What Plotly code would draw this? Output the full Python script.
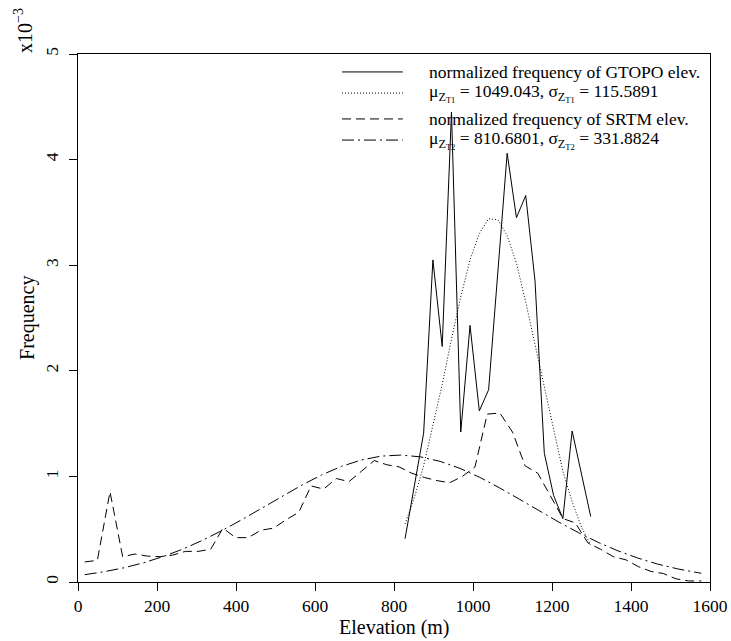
import plotly.graph_objects as go

# ---- data (frequency in units of 1e-3) ----
gtopo_x = [828, 851.5, 875, 898.5, 922, 945.5, 969, 992.5, 1016, 1039.5, 1063,
           1086.5, 1110, 1133.5, 1157, 1180.5, 1204, 1227.5, 1251, 1274.5, 1298]
gtopo_y = [0.41, 0.9, 1.41, 3.05, 2.23, 4.45, 1.42, 2.43, 1.62, 1.82, 2.95,
           4.06, 3.45, 3.66, 2.85, 1.22, 0.82, 0.60, 1.43, 1.02, 0.62]
gtopo_fit_y = [0.55, 0.80, 1.10, 1.47, 1.87, 2.30, 2.70, 3.05, 3.30, 3.44, 3.43,
               3.28, 3.02, 2.65, 2.25, 1.82, 1.42, 1.05, 0.76, 0.52, 0.35]

srtm_x = [17, 49, 81, 113, 144, 176, 208, 240, 272, 304, 336, 367, 399, 431, 463,
          495, 527, 559, 590, 622, 654, 686, 718, 750, 782, 813, 845, 877, 909,
          941, 973, 1005, 1036, 1068, 1100, 1132, 1164, 1196, 1228, 1259, 1291,
          1323, 1355, 1387, 1419, 1451, 1482, 1514, 1546, 1578]
srtm_y = [0.19, 0.205, 0.855, 0.24, 0.265, 0.245, 0.24, 0.255, 0.29, 0.29, 0.31,
          0.51, 0.42, 0.42, 0.49, 0.51, 0.59, 0.66, 0.91, 0.88, 0.98, 0.95, 1.05,
          1.15, 1.11, 1.09, 1.03, 0.99, 0.96, 0.94, 1.0, 1.09, 1.59, 1.60, 1.42,
          1.10, 1.03, 0.82, 0.60, 0.56, 0.37, 0.31, 0.24, 0.21, 0.145, 0.10, 0.08,
          0.03, 0.01, 0.01]

srtm_fit_x = [17, 67, 117, 167, 217, 267, 317, 367, 417, 467, 517, 567, 617, 667,
              717, 767, 817, 867, 917, 967, 1017, 1067, 1117, 1167, 1217, 1267,
              1317, 1367, 1417, 1467, 1517, 1567, 1578]
srtm_fit_y = [0.069, 0.098, 0.135, 0.183, 0.243, 0.314, 0.398, 0.492, 0.595, 0.703,
              0.813, 0.918, 1.014, 1.095, 1.155, 1.192, 1.202, 1.185, 1.142, 1.076,
              0.991, 0.892, 0.785, 0.675, 0.568, 0.467, 0.375, 0.295, 0.227, 0.170,
              0.125, 0.090, 0.083]

x_ticks = [0, 200, 400, 600, 800, 1000, 1200, 1400, 1600]
y_ticks = [0, 1, 2, 3, 4, 5]

legend_labels = [
    "normalized frequency of GTOPO elev.",
    "μ<sub>Z<sub>T1</sub></sub> = 1049.043, σ<sub>Z<sub>T1</sub></sub> = 115.5891",
    "normalized frequency of SRTM elev.",
    "μ<sub>Z<sub>T2</sub></sub> = 810.6801, σ<sub>Z<sub>T2</sub></sub> = 331.8824",
]

FONT = "Liberation Serif"
DOT = "1px,2px"
DASH = "9px,5px"
DASHDOT = "12px,4px,2px,4px"
styles = ["solid", DOT, DASH, DASHDOT]
LEG_SIZE = 17.5
TICK_SIZE = 17.5
TITLE_SIZE = 20

fig = go.Figure()
fig.add_trace(go.Scatter(x=gtopo_x, y=gtopo_y, mode="lines",
                         line=dict(color="black", width=1, dash="solid")))
fig.add_trace(go.Scatter(x=gtopo_x, y=gtopo_fit_y, mode="lines",
                         line=dict(color="black", width=1, dash=DOT)))
fig.add_trace(go.Scatter(x=srtm_x, y=srtm_y, mode="lines",
                         line=dict(color="black", width=1, dash=DASH)))
fig.add_trace(go.Scatter(x=srtm_fit_x, y=srtm_fit_y, mode="lines",
                         line=dict(color="black", width=1, dash=DASHDOT)))

# manual legend (R style, no box)
leg_y = [0.966, 0.926, 0.877, 0.837]
shapes = []
annotations = []
for lab, st, yy in zip(legend_labels, styles, leg_y):
    shapes.append(dict(type="line", xref="paper", yref="paper",
                       x0=0.4177, x1=0.514, y0=yy, y1=yy,
                       line=dict(color="black", width=1, dash=st)))
    annotations.append(dict(text=lab, xref="paper", yref="paper", x=0.552, y=yy,
                            xanchor="left", yanchor="middle", showarrow=False,
                            font=dict(family=FONT, size=LEG_SIZE, color="black")))

annotations += [
    dict(text="Elevation (m)", xref="paper", yref="paper", x=0.5, y=-0.087,
         xanchor="center", yanchor="middle", showarrow=False,
         font=dict(family=FONT, size=TITLE_SIZE, color="black")),
    dict(text="Frequency", xref="paper", yref="paper", x=-0.0807, y=0.5,
         xanchor="center", yanchor="middle", showarrow=False, textangle=-90,
         font=dict(family=FONT, size=TITLE_SIZE, color="black")),
    dict(text="x10<sup>−3</sup>", xref="paper", yref="paper", x=-0.086, y=1.045,
         xanchor="center", yanchor="middle", showarrow=False, textangle=-90,
         font=dict(family=FONT, size=TITLE_SIZE, color="black")),
]

fig.update_layout(
    template="none",
    width=731, height=641, autosize=False,
    margin=dict(l=78, r=21, t=54, b=59, pad=0),
    paper_bgcolor="white", plot_bgcolor="white",
    showlegend=False,
    font=dict(family=FONT, size=TICK_SIZE, color="black"),
    shapes=shapes, annotations=annotations,
)
fig.update_xaxes(range=[0, 1600], tickvals=x_ticks, ticks="outside", ticklen=8,
                 tickcolor="black", showgrid=False, zeroline=False, automargin=False,
                 showline=True, linecolor="black", linewidth=1, mirror=True,
                 tickfont=dict(family=FONT, size=TICK_SIZE))
fig.update_yaxes(range=[0, 5], tickvals=y_ticks, ticks="outside", ticklen=8,
                 tickcolor="black", showgrid=False, zeroline=False, automargin=False,
                 showline=True, linecolor="black", linewidth=1, mirror=True,
                 tickangle=-90, ticklabelstandoff=4,
                 tickfont=dict(family=FONT, size=TICK_SIZE))

fig.write_html("out.html")
